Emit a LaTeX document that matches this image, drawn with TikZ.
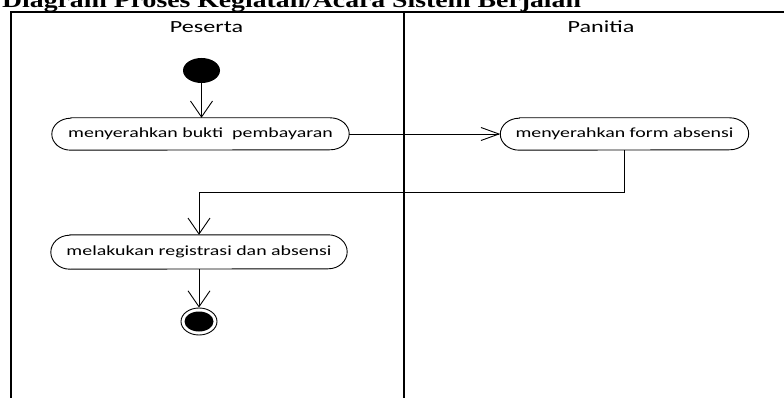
\documentclass[tikz,border=0pt]{standalone}
\usepackage{fontspec}
\usetikzlibrary{arrows.meta,shapes.geometric}
\newfontfamily\labfont[FakeStretch=1.42]{Carlito}
\newfontfamily\headfont[FakeStretch=1.29]{Liberation Serif}

% outline of an activity with elliptical ends: node, x radius, y radius
\newcommand\capsuleoutline[3]{%
  \draw[flow] ([xshift=#2]#1.north west) -- ([xshift=-#2]#1.north east)
    arc[start angle=90,end angle=-90,x radius=#2,y radius=#3]
    -- ([xshift=#2]#1.south west)
    arc[start angle=270,end angle=90,x radius=#2,y radius=#3] -- cycle;}

\begin{document}
\begin{tikzpicture}[x=1pt,y=1pt,
  lane/.style={line width=1.6pt},
  flow/.style={line width=0.9pt},
  actbox/.style={draw=none, minimum width=#1, minimum height=32pt, inner sep=0pt,
    font=\labfont\fontsize{14}{16}\selectfont},
  lanelabel/.style={anchor=base, inner sep=0pt, font=\labfont\fontsize{17}{19}\selectfont},
  downtip/.style={flow, -{Straight Barb[length=16pt,width=22pt]}},
  righttip/.style={flow, -{Straight Barb[length=18pt,width=13pt]}},
]
\useasboundingbox (0,0) rectangle (784,-398);
\clip (0,0) rectangle (784,-398);

% heading
\node[anchor=base west, inner sep=0pt,
  font=\headfont\bfseries\fontsize{21.5}{23}\selectfont] (heading) at (2,-7.5)
  {Diagram Proses Kegiatan/Acara Sistem Berjalan};

% swimlanes
\coordinate (laneTL) at (11,-12);
\coordinate (laneBL) at (11,-402);
\coordinate (laneTR) at (788,-12);
\coordinate (midT) at (404,-12);
\coordinate (midB) at (404,-402);
\draw[lane] (laneBL) -- (laneTL) -- (laneTR);
\draw[lane] (midT) -- (midB);
\node[lanelabel] (peserta) at (206.5,-33) {Peserta};
\node[lanelabel] (panitia) at (601,-33) {Panitia};

% initial node
\node[ellipse, fill=black, inner sep=0pt, minimum width=37pt, minimum height=25pt]
  (start) at (201.5,-70.5) {};

% activities
\node[actbox=297pt] (bukti) at (200.5,-134) {menyerahkan bukti\ \ pembayaran};
\capsuleoutline{bukti}{19pt}{16pt}
\node[actbox=248pt] (form) at (624.5,-134) {menyerahkan form absensi};
\capsuleoutline{form}{19pt}{16pt}
\node[actbox=296pt, minimum height=34pt] (registrasi) at (199,-252) {melakukan registrasi dan absensi};
\capsuleoutline{registrasi}{19pt}{17pt}

% final node
\node[ellipse, draw, line width=0.9pt, inner sep=0pt, minimum width=36pt, minimum height=27pt]
  (final) at (199,-321.5) {};
\node[ellipse, fill=black, inner sep=0pt, minimum width=29pt, minimum height=20pt]
  (finalcore) at (final.center) {};

% control flows
\draw[downtip] (start.south) -- (start.south |- bukti.north);
\draw[righttip] (bukti.east) -- (form.west);
\draw[downtip] (form.south) -- ++(0,-42) -| (registrasi.north);
\draw[downtip] (registrasi.south) -- (final.north);
\end{tikzpicture}
\end{document}
